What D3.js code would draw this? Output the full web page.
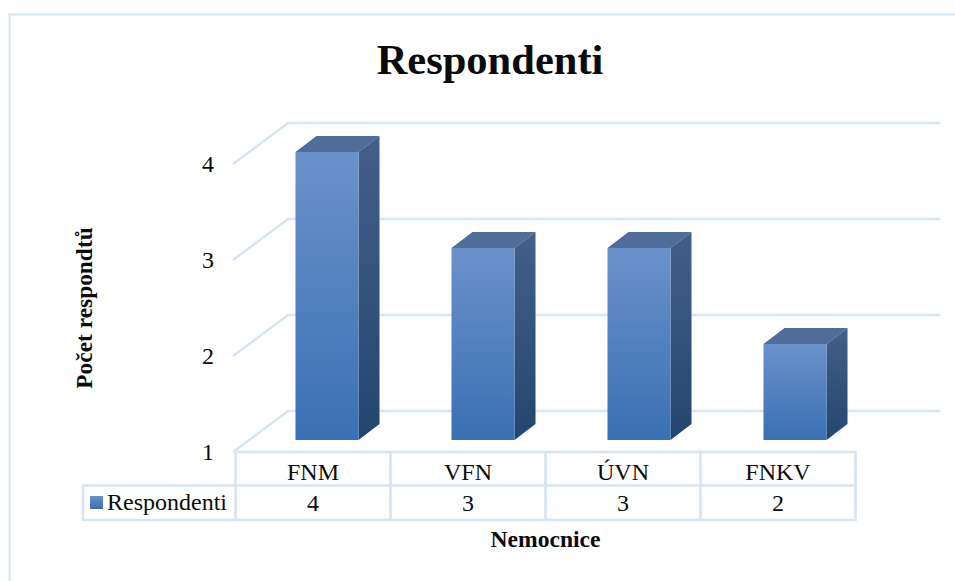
<!DOCTYPE html>
<html lang="cs">
<head>
<meta charset="utf-8">
<title>Respondenti</title>
<script src="https://cdn.jsdelivr.net/npm/d3@7/dist/d3.min.js"></script>
<style>
  html, body { margin: 0; padding: 0; background: #fff; }
  svg { display: block; }
  text { font-family: "Liberation Serif", serif; fill: #0a0a0a; }
</style>
</head>
<body>
<div id="chart"></div>
<script>
const hospitals = ["FNM", "VFN", "ÚVN", "FNKV"];
const respondents = [4, 3, 3, 2];
const yTicks = [1, 2, 3, 4];
const seriesName = "Respondenti";
const chartTitle = "Respondenti";
const yTitle = "Počet respondtů";
const xTitle = "Nemocnice";

const width = 955, height = 581;
const gridColor = "#d7e4f4";

const svg = d3.select("#chart").append("svg")
  .attr("width", width).attr("height", height);

const defs = svg.append("defs");
function gradient(id, top, bottom) {
  const g = defs.append("linearGradient").attr("id", id)
    .attr("x1", 0).attr("y1", 0).attr("x2", 0).attr("y2", 1);
  g.append("stop").attr("offset", 0).attr("stop-color", top);
  g.append("stop").attr("offset", 1).attr("stop-color", bottom);
}
gradient("barFront", "#6b91c9", "#3a70b5");
gradient("barSide", "#435f8a", "#23466f");
gradient("swatch", "#6b91c9", "#3a70b5");

// Outer chart frame: only top and left edges fall inside the page
svg.append("path")
  .attr("d", "M9.5,581V14.5H955")
  .attr("fill", "none").attr("stroke", gridColor).attr("stroke-width", 2);

// Value scales: y gives the front-plane position, barY the position at the bars' depth
const y = d3.scaleLinear().domain([1, 4]).range([452, 164]);
const barY = d3.scaleLinear().domain([1, 4]).range([440, 152]);

// Table columns and the slightly deeper bar slots
const xTable = d3.scaleBand().domain(hospitals).range([235.5, 855.5]);
const xBar = d3.scaleBand().domain(hospitals).range([249, 873]).paddingInner(0.596).paddingOuter(0.298);

// Depth of the back wall and of a bar
const wall = { dx: 52, dy: -41, right: 940 };
const depth = { dx: 21, dy: -16 };

// Gridlines: diagonal on the side wall, horizontal on the back wall
const grid = svg.append("g").attr("fill", "none").attr("stroke", gridColor).attr("stroke-width", 2.6);
yTicks.forEach(t => {
  const p = d3.path();
  p.moveTo(233, y(t));
  p.lineTo(236 + wall.dx, y(t) + wall.dy);
  p.lineTo(wall.right, y(t) + wall.dy);
  grid.append("path").attr("d", p.toString());
});

// Y tick labels
svg.append("g").selectAll("text").data(yTicks).join("text")
  .attr("x", 214).attr("y", d => y(d) + 8)
  .attr("text-anchor", "end").attr("font-size", 24)
  .text(d => d);

// 3D columns
const bars = svg.append("g").selectAll("g").data(hospitals).join("g");
const barValue = name => respondents[hospitals.indexOf(name)];
bars.append("path").attr("fill", "#4f6d98").attr("d", d => {
  const l = xBar(d), r = l + xBar.bandwidth(), t = barY(barValue(d));
  return `M${l},${t}L${l + depth.dx},${t + depth.dy}H${r + depth.dx}L${r},${t}Z`;
});
bars.append("path").attr("fill", "url(#barSide)").attr("d", d => {
  const r = xBar(d) + xBar.bandwidth(), t = barY(barValue(d)), b = barY(1);
  return `M${r},${t}L${r + depth.dx},${t + depth.dy}V${b + depth.dy}L${r},${b}Z`;
});
bars.append("rect").attr("fill", "url(#barFront)")
  .attr("x", d => xBar(d)).attr("width", xBar.bandwidth())
  .attr("y", d => barY(barValue(d)))
  .attr("height", d => barY(1) - barY(barValue(d)));

// Data table below the plot
const rowTop = 452, rowMid = 485.5, rowBottom = 520, legendLeft = 83;
const table = svg.append("g").attr("stroke", gridColor).attr("stroke-width", 2.6).attr("fill", "none");
table.append("path").attr("d", `M235.5,${rowTop}H855.5V${rowBottom}H${legendLeft}V${rowMid}H855.5`);
hospitals.forEach(h => {
  table.append("line").attr("x1", xTable(h)).attr("x2", xTable(h)).attr("y1", rowTop).attr("y2", rowBottom);
});

const cellCenter = d => xTable(d) + xTable.bandwidth() / 2;
svg.append("g").selectAll("text").data(hospitals).join("text")
  .attr("x", cellCenter).attr("y", 480)
  .attr("text-anchor", "middle").attr("font-size", 24).text(d => d);
svg.append("g").selectAll("text").data(respondents).join("text")
  .attr("x", (d, i) => cellCenter(hospitals[i])).attr("y", 511)
  .attr("text-anchor", "middle").attr("font-size", 24).text(d => d);

// Legend key inside the table
svg.append("rect").attr("x", 90).attr("y", 496).attr("width", 13).attr("height", 13).attr("fill", "url(#swatch)");
svg.append("text").attr("x", 107).attr("y", 510).attr("font-size", 24).text(seriesName);

// Titles
svg.append("text").attr("x", 490).attr("y", 74).attr("text-anchor", "middle")
  .attr("font-size", 42.5).attr("font-weight", "bold").text(chartTitle);
svg.append("text").attr("transform", "translate(91.5,308) rotate(-90)").attr("text-anchor", "middle")
  .attr("font-size", 23.4).attr("font-weight", "bold").text(yTitle);
svg.append("text").attr("x", 545.5).attr("y", 547).attr("text-anchor", "middle")
  .attr("font-size", 23.6).attr("font-weight", "bold").text(xTitle);
</script>
</body>
</html>
